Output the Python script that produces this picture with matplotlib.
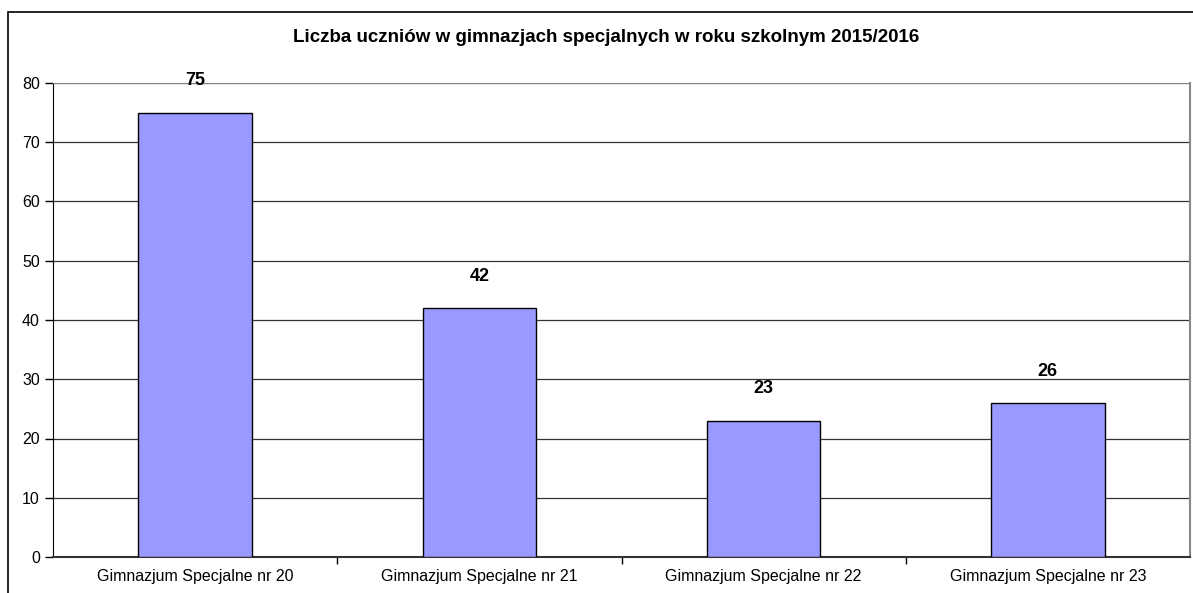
import numpy as np
import matplotlib
matplotlib.use('Agg')
import matplotlib.pyplot as plt
from matplotlib.patches import Rectangle

# ── Dane ──
schools = ['Gimnazjum Specjalne nr 20', 'Gimnazjum Specjalne nr 21',
           'Gimnazjum Specjalne nr 22', 'Gimnazjum Specjalne nr 23']
students = [75, 42, 23, 26]
y_ticks = [0, 10, 20, 30, 40, 50, 60, 70, 80]
title = 'Liczba uczniów w gimnazjach specjalnych w roku szkolnym 2015/2016'

plt.rcParams['font.family'] = ['Liberation Sans', 'DejaVu Sans']

fig = plt.figure(figsize=(11.93, 5.93), dpi=100)
ax = fig.add_axes([53/1193, 1 - 557/593, (1190 - 53)/1193, (557 - 83)/593])

# ramka wykresu
fig.patches.append(Rectangle((8/1193, -0.1), 1.0, 1 - 12/593 + 0.1,
                             transform=fig.transFigure, fill=False,
                             edgecolor='black', lw=1.2, zorder=0))

x = np.arange(len(schools))
ax.bar(x, students, width=0.4, color='#9999FF', edgecolor='black', lw=1.0, zorder=3)

for xi, v in zip(x, students):
    ax.annotate(str(v), (xi, v), xytext=(0, 23), textcoords='offset points',
                ha='center', va='center', fontsize=13, fontweight='bold', zorder=4)

ax.set_xlim(-0.5, len(schools) - 0.5)
ax.set_ylim(0, 80)
ax.set_yticks(y_ticks)
ax.tick_params(axis='y', labelsize=11.5, length=6, direction='out', width=1)
ax.yaxis.grid(True, color='#333333', lw=0.9, zorder=0)

# etykiety kategorii bez kresek, kreski na granicach
ax.set_xticks(x)
ax.set_xticklabels(schools, fontsize=11.5)
ax.tick_params(axis='x', length=0, pad=9)
ax.set_xticks(np.arange(0.5, len(schools) - 0.5, 1.0), minor=True)
ax.tick_params(axis='x', which='minor', length=5, width=1, direction='out')

ax.spines['left'].set_color('black')
ax.spines['bottom'].set_color('#333333')
ax.spines['bottom'].set_linewidth(1.5)
ax.spines['top'].set_color('#888888')
ax.spines['right'].set_color('#888888')
ax.spines['right'].set_linewidth(1.5)

fig.text(606/1193, 1 - 38/593, title,
         ha='center', va='center', fontsize=13.5, fontweight='bold')

fig.savefig('out.png', dpi=100)
